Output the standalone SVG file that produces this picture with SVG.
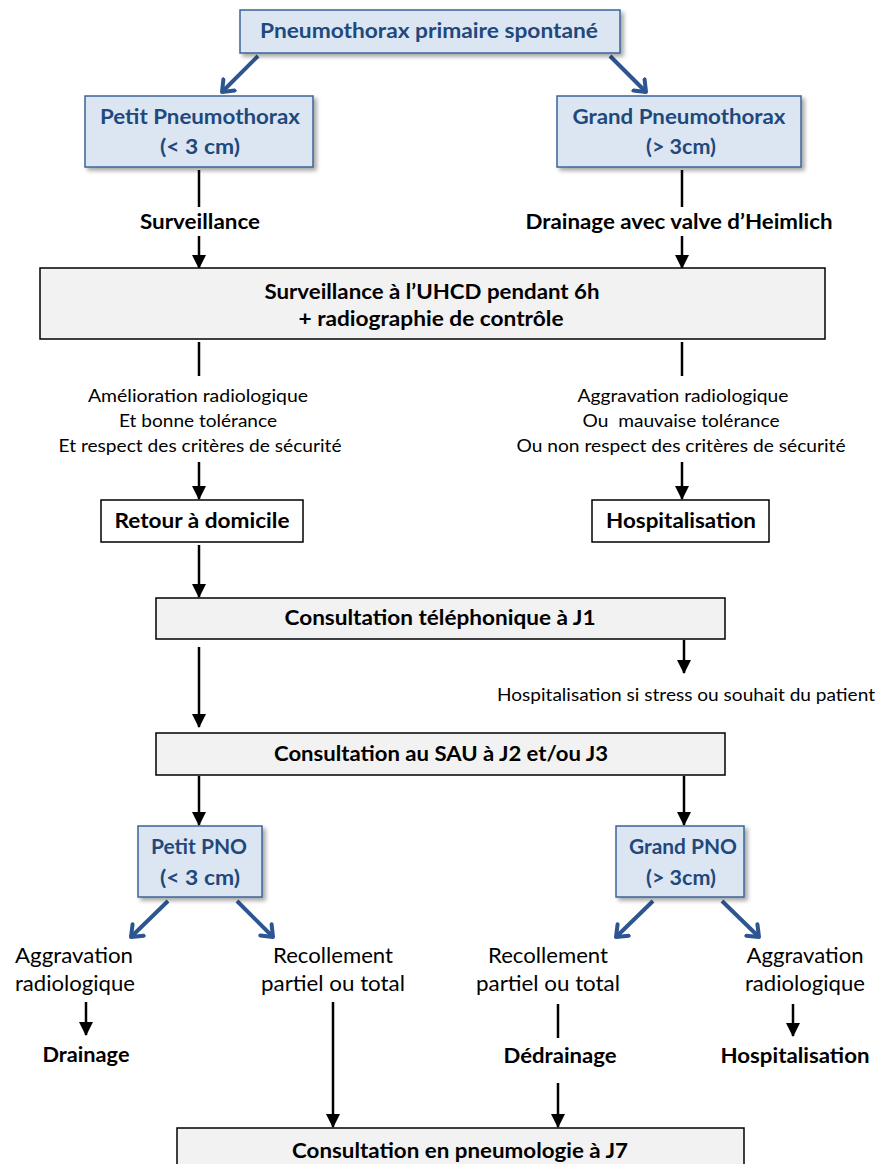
<svg xmlns="http://www.w3.org/2000/svg" width="879" height="1164" viewBox="0 0 879 1164">
<style>
.blue{fill:#dce6f2;stroke:#3b6596;stroke-width:1.5}
.gray{fill:#f2f2f2;stroke:#000;stroke-width:1.5}
.white{fill:#fff;stroke:#000;stroke-width:1.5}
text{font-family:Lato,"Open Sans","Liberation Sans",sans-serif;text-anchor:middle}
.bt{font-weight:bold;font-size:20px;fill:#1f497d}
.kt{font-weight:bold;font-size:20px;fill:#000}
.nt{font-size:17px;fill:#000}
.nt2{font-size:21px;fill:#000}
.k{stroke:#000;stroke-width:2.5;fill:none}
.ka{stroke:#000;stroke-width:2.5;fill:none;marker-end:url(#ah)}
.ba{stroke:#2c5591;stroke-width:4;fill:none;marker-end:url(#bh)}
</style>
<defs>
<marker id="ah" markerWidth="14" markerHeight="14" viewBox="0 0 14 14" refX="13" refY="7" orient="auto" markerUnits="userSpaceOnUse">
<path d="M0,0 L14,7 L0,14 Z" fill="#000"/>
</marker>
<marker id="bh" markerWidth="24" markerHeight="24" viewBox="-12 -12 24 24" refX="0" refY="0" orient="auto" markerUnits="userSpaceOnUse">
<path d="M-10,-8 L0,0 L-10,8" fill="none" stroke="#2c5591" stroke-width="4" stroke-linecap="round" stroke-linejoin="round"/>
</marker>
<filter id="sh" x="-10%" y="-10%" width="130%" height="140%">
<feDropShadow dx="3" dy="3" stdDeviation="2" flood-color="#000" flood-opacity="0.35"/>
</filter>
</defs>

<g id="connectors">
<line class="ba" x1="258" y1="56" x2="222" y2="92"/>
<line class="ba" x1="610" y1="56" x2="646" y2="92"/>
<line class="k" x1="199" y1="170" x2="199" y2="207"/>
<line class="ka" x1="199" y1="236" x2="199" y2="268"/>
<line class="k" x1="682" y1="170" x2="682" y2="207"/>
<line class="ka" x1="682" y1="236" x2="682" y2="268"/>
<line class="k" x1="199" y1="342" x2="199" y2="376"/>
<line class="k" x1="682" y1="342" x2="682" y2="376"/>
<line class="ka" x1="199" y1="462" x2="199" y2="499"/>
<line class="ka" x1="682" y1="462" x2="682" y2="499"/>
<line class="ka" x1="199" y1="545" x2="199" y2="597"/>
<line class="ka" x1="684" y1="640" x2="684" y2="673"/>
<line class="ka" x1="199" y1="647" x2="199" y2="727"/>
<line class="ka" x1="199" y1="776" x2="199" y2="825"/>
<line class="ka" x1="684" y1="776" x2="684" y2="825"/>
<line class="ba" x1="168" y1="901" x2="131" y2="937"/>
<line class="ba" x1="237" y1="901" x2="273" y2="937"/>
<line class="ba" x1="653" y1="901" x2="616" y2="937"/>
<line class="ba" x1="722" y1="901" x2="759" y2="937"/>
<line class="ka" x1="86" y1="1002" x2="86" y2="1035"/>
<line class="ka" x1="333" y1="1002" x2="333" y2="1127"/>
<line class="k" x1="558" y1="1004" x2="558" y2="1038"/>
<line class="ka" x1="558" y1="1083" x2="558" y2="1127"/>
<line class="ka" x1="793" y1="1004" x2="793" y2="1036"/>
</g>

<g id="n-top"><rect class="blue" filter="url(#sh)" x="240" y="10" width="380" height="43"/><text class="bt" x="429" y="38" textLength="338" lengthAdjust="spacingAndGlyphs">Pneumothorax primaire spontané</text></g>
<g id="n-petit"><rect class="blue" filter="url(#sh)" x="85" y="96" width="228" height="71"/><text class="bt" x="200" y="124" textLength="200" lengthAdjust="spacingAndGlyphs">Petit Pneumothorax</text><text class="bt" x="200" y="154" textLength="80" lengthAdjust="spacingAndGlyphs">(&lt; 3 cm)</text></g>
<g id="n-grand"><rect class="blue" filter="url(#sh)" x="557" y="96" width="244" height="71"/><text class="bt" x="679" y="124" textLength="213" lengthAdjust="spacingAndGlyphs">Grand Pneumothorax</text><text class="bt" x="681" y="154" textLength="70" lengthAdjust="spacingAndGlyphs">(&gt; 3cm)</text></g>
<g id="t-surv"><text class="kt" x="200" y="229" textLength="120" lengthAdjust="spacingAndGlyphs">Surveillance</text></g>
<g id="t-drain"><text class="kt" x="679" y="229" textLength="307" lengthAdjust="spacingAndGlyphs">Drainage avec valve d’Heimlich</text></g>
<g id="n-uhcd"><rect class="gray" x="40" y="268" width="785" height="71"/><text class="kt" x="432" y="299" textLength="335" lengthAdjust="spacingAndGlyphs">Surveillance à l’UHCD pendant 6h</text><text class="kt" x="431" y="326" textLength="265" lengthAdjust="spacingAndGlyphs">+ radiographie de contrôle</text></g>
<g id="t-amel"><text class="nt" x="198" y="402" textLength="220" lengthAdjust="spacingAndGlyphs">Amélioration radiologique</text><text class="nt" x="198" y="427" textLength="158" lengthAdjust="spacingAndGlyphs">Et bonne tolérance</text><text class="nt" x="200" y="452" textLength="283" lengthAdjust="spacingAndGlyphs">Et respect des critères de sécurité</text></g>
<g id="t-aggr"><text class="nt" x="683" y="402" textLength="211" lengthAdjust="spacingAndGlyphs">Aggravation radiologique</text><text class="nt" x="681" y="427" textLength="197" lengthAdjust="spacingAndGlyphs" xml:space="preserve">Ou  mauvaise tolérance</text><text class="nt" x="681" y="452" textLength="329" lengthAdjust="spacingAndGlyphs">Ou non respect des critères de sécurité</text></g>
<g id="n-retour"><rect class="white" x="101" y="500" width="202" height="42"/><text class="kt" x="202" y="528" textLength="175" lengthAdjust="spacingAndGlyphs">Retour à domicile</text></g>
<g id="n-hosp1"><rect class="white" x="592" y="500" width="177" height="42"/><text class="kt" x="681" y="528" textLength="150" lengthAdjust="spacingAndGlyphs">Hospitalisation</text></g>
<g id="n-tel"><rect class="gray" x="156" y="598" width="569" height="41"/><text class="kt" x="440" y="625" textLength="311" lengthAdjust="spacingAndGlyphs">Consultation téléphonique à J1</text></g>
<g id="t-hosp-stress"><text class="nt" x="686" y="701" textLength="378" lengthAdjust="spacingAndGlyphs">Hospitalisation si stress ou souhait du patient</text></g>
<g id="n-sau"><rect class="gray" x="156" y="733" width="569" height="42"/><text class="kt" x="441" y="761" textLength="334" lengthAdjust="spacingAndGlyphs">Consultation au SAU à J2 et/ou J3</text></g>
<g id="n-ppno"><rect class="blue" filter="url(#sh)" x="138" y="826" width="124" height="71"/><text class="bt" x="199" y="854" textLength="96" lengthAdjust="spacingAndGlyphs">Petit PNO</text><text class="bt" x="200" y="885" textLength="80" lengthAdjust="spacingAndGlyphs">(&lt; 3 cm)</text></g>
<g id="n-gpno"><rect class="blue" filter="url(#sh)" x="616" y="826" width="128" height="71"/><text class="bt" x="683" y="854" textLength="108" lengthAdjust="spacingAndGlyphs">Grand PNO</text><text class="bt" x="681" y="885" textLength="70" lengthAdjust="spacingAndGlyphs">(&gt; 3cm)</text></g>
<g id="t-aggr2"><text class="nt2" x="74" y="963" textLength="118" lengthAdjust="spacingAndGlyphs">Aggravation</text><text class="nt2" x="75" y="991" textLength="120" lengthAdjust="spacingAndGlyphs">radiologique</text></g>
<g id="t-recol1"><text class="nt2" x="333" y="963" textLength="120" lengthAdjust="spacingAndGlyphs">Recollement</text><text class="nt2" x="333" y="991" textLength="144" lengthAdjust="spacingAndGlyphs">partiel ou total</text></g>
<g id="t-recol2"><text class="nt2" x="548" y="963" textLength="120" lengthAdjust="spacingAndGlyphs">Recollement</text><text class="nt2" x="548" y="991" textLength="144" lengthAdjust="spacingAndGlyphs">partiel ou total</text></g>
<g id="t-aggr3"><text class="nt2" x="805" y="963" textLength="117" lengthAdjust="spacingAndGlyphs">Aggravation</text><text class="nt2" x="805" y="991" textLength="120" lengthAdjust="spacingAndGlyphs">radiologique</text></g>
<g id="t-drainage"><text class="kt" x="86" y="1062" textLength="87" lengthAdjust="spacingAndGlyphs">Drainage</text></g>
<g id="t-dedrain"><text class="kt" x="560" y="1063" textLength="113" lengthAdjust="spacingAndGlyphs">Dédrainage</text></g>
<g id="t-hosp2"><text class="kt" x="795" y="1063" textLength="149" lengthAdjust="spacingAndGlyphs">Hospitalisation</text></g>
<g id="n-j7"><rect class="gray" x="177" y="1128" width="567" height="50"/><text class="kt" x="460" y="1158" textLength="336" lengthAdjust="spacingAndGlyphs">Consultation en pneumologie à J7</text></g>
</svg>
